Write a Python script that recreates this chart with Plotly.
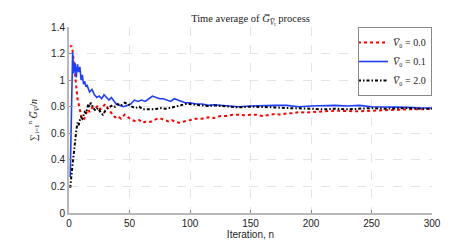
import plotly.graph_objects as go

# Iteration indices and running-average values
n_red = [1,2,3,4,5,6,7,8,9,10,11,12,13,14,15,16,17,18,20,22,24,26,28,30,32,34,36,38,40,43,46,49,52,55,58,61,64,67,70,73,76,79,82,85,88,91,95,100,105,110,115,120,125,130,135,140,145,150,155,160,165,170,175,180,185,190,195,200,210,220,230,240,250,260,270,280,290,300]
v_red = [1.25,1.26,1.22,1.12,1.01,0.93,0.86,0.82,0.76,0.73,0.71,0.70,0.72,0.75,0.77,0.78,0.76,0.78,0.80,0.79,0.81,0.78,0.80,0.82,0.79,0.76,0.74,0.72,0.73,0.71,0.74,0.72,0.70,0.69,0.70,0.68,0.69,0.685,0.70,0.71,0.71,0.70,0.69,0.70,0.685,0.68,0.69,0.70,0.71,0.71,0.72,0.715,0.73,0.73,0.74,0.74,0.735,0.74,0.74,0.73,0.735,0.745,0.74,0.75,0.75,0.76,0.755,0.76,0.765,0.77,0.765,0.765,0.77,0.775,0.78,0.78,0.78,0.785]

n_blue = [1,2,3,4,5,6,7,8,9,10,11,12,13,14,15,17,19,21,23,25,27,29,31,33,35,37,39,42,45,48,51,54,57,60,63,66,69,72,75,78,81,84,87,90,93,96,100,105,110,115,120,125,130,135,140,150,160,170,180,190,200,210,220,230,240,250,260,270,280,290,300]
v_blue = [0.27,0.75,1.21,1.05,1.13,1.02,1.12,1.06,1.10,1.00,1.04,0.97,0.99,0.95,0.96,0.91,0.93,0.89,0.87,0.88,0.86,0.89,0.87,0.85,0.87,0.84,0.82,0.81,0.80,0.81,0.82,0.85,0.84,0.85,0.84,0.86,0.88,0.87,0.86,0.86,0.85,0.84,0.86,0.85,0.84,0.83,0.83,0.82,0.82,0.81,0.815,0.81,0.805,0.80,0.80,0.805,0.81,0.81,0.81,0.80,0.805,0.81,0.81,0.805,0.81,0.80,0.80,0.795,0.795,0.79,0.79]

n_black = [1,2,3,4,5,6,7,8,9,10,11,12,13,14,15,16,17,18,19,20,22,24,26,28,30,32,34,36,38,40,43,46,49,52,55,58,61,64,67,70,73,76,80,84,88,92,96,100,105,110,115,120,130,140,150,160,170,180,190,200,210,220,230,240,250,260,270,280,290,300]
v_black = [0.19,0.30,0.37,0.45,0.55,0.62,0.68,0.66,0.70,0.72,0.71,0.73,0.76,0.75,0.79,0.82,0.80,0.83,0.81,0.79,0.77,0.79,0.76,0.74,0.77,0.79,0.80,0.81,0.80,0.82,0.81,0.83,0.82,0.80,0.79,0.80,0.78,0.78,0.775,0.78,0.785,0.79,0.785,0.79,0.80,0.81,0.82,0.82,0.815,0.81,0.805,0.81,0.80,0.795,0.80,0.80,0.795,0.79,0.79,0.785,0.78,0.785,0.78,0.785,0.79,0.785,0.79,0.79,0.785,0.785]

names = ["<i>V̅</i>₀ = 0.0", "<i>V̅</i>₀ = 0.1", "<i>V̅</i>₀ = 2.0"]
x_ticks = [0, 50, 100, 150, 200, 250, 300]
y_ticks = [0, 0.2, 0.4, 0.6, 0.8, 1.0, 1.2, 1.4]
y_tick_text = ["0", "0.2", "0.4", "0.6", "0.8", "1", "1.2", "1.4"]

fig = go.Figure()
fig.add_trace(go.Scatter(x=n_red, y=v_red, mode="lines", name=names[0],
                         line=dict(color="#ff0000", width=2, dash="dot")))
fig.add_trace(go.Scatter(x=n_blue, y=v_blue, mode="lines", name=names[1],
                         line=dict(color="#1f3fff", width=1.6)))
fig.add_trace(go.Scatter(x=n_black, y=v_black, mode="lines", name=names[2],
                         line=dict(color="#000000", width=2, dash="3px,2px,1.5px,2px")))

axis_common = dict(showgrid=True, gridcolor="#e4e4e4", griddash="dash", gridwidth=1,
                   zeroline=False, showline=True, linecolor="#b8b8b8", linewidth=2,
                   ticks="inside", ticklen=3, tickcolor="#888888",
                   tickfont=dict(family="Liberation Sans, Arial, sans-serif", size=10, color="#222222"))

fig.update_layout(
    width=469, height=240,
    margin=dict(l=61, r=45, t=19, b=27),
    paper_bgcolor="white", plot_bgcolor="white",
    title=dict(text="Time average of <i>G̅</i><sub><i>V̅</i><sub>t</sub></sub> process",
               x=(61 + 424) / 2 / 469, xanchor="center", y=0.955, yanchor="middle",
               font=dict(family="Liberation Serif, Times New Roman, serif", size=10.5, color="#222222")),
    xaxis=dict(range=[0, 300], tickvals=x_ticks, **axis_common,
               title=dict(text="Iteration, n", standoff=0,
                          font=dict(family="Liberation Sans, Arial, sans-serif", size=10, color="#222222"))),
    yaxis=dict(range=[0, 1.4], tickvals=y_ticks, ticktext=y_tick_text, **axis_common,
               title=dict(text="∑<sub>i=1</sub><sup>n</sup> <i>G̅</i><sub><i>V̅</i></sub>/<i>n</i>", standoff=12,
                          font=dict(family="Liberation Serif, Times New Roman, serif", size=10, color="#222222"))),
    legend=dict(x=1, xanchor="right", y=1, yanchor="top",
                bordercolor="#888888", borderwidth=1, bgcolor="white",
                font=dict(family="Liberation Serif, Times New Roman, serif", size=10, color="#222222"),
                itemwidth=30, tracegroupgap=0, indentation=-6),
    showlegend=True,
)

fig.write_html("out.html")
